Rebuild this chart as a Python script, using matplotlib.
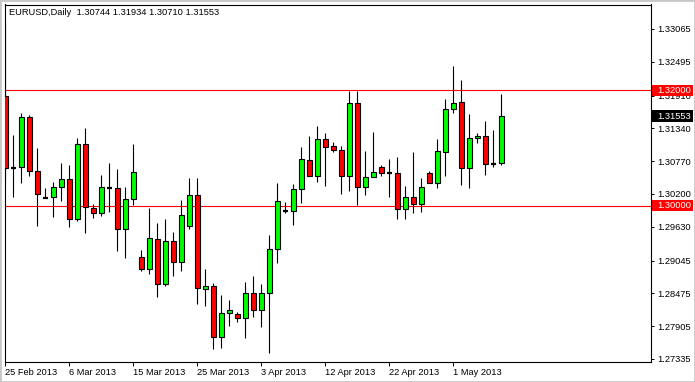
import matplotlib
matplotlib.use("Agg")
import matplotlib.pyplot as plt
from matplotlib.patches import Rectangle
import numpy as np
import pandas as pd

plt.rcParams["font.family"] = ["Liberation Sans", "DejaVu Sans"]

symbol = "EURUSD,Daily"

# daily bars (broker feed with Sunday bars)
dates = [
    "2013-02-25", "2013-02-26", "2013-02-27", "2013-02-28", "2013-03-01", "2013-03-03",
    "2013-03-04", "2013-03-05", "2013-03-06", "2013-03-07", "2013-03-08", "2013-03-10",
    "2013-03-11", "2013-03-12", "2013-03-13", "2013-03-14", "2013-03-15", "2013-03-17",
    "2013-03-18", "2013-03-19", "2013-03-20", "2013-03-21", "2013-03-22", "2013-03-24",
    "2013-03-25", "2013-03-26", "2013-03-27", "2013-03-28", "2013-03-29", "2013-03-31",
    "2013-04-01", "2013-04-02", "2013-04-03", "2013-04-04", "2013-04-05", "2013-04-07",
    "2013-04-08", "2013-04-09", "2013-04-10", "2013-04-11", "2013-04-12", "2013-04-14",
    "2013-04-15", "2013-04-16", "2013-04-17", "2013-04-18", "2013-04-19", "2013-04-21",
    "2013-04-22", "2013-04-23", "2013-04-24", "2013-04-25", "2013-04-26", "2013-04-28",
    "2013-04-29", "2013-04-30", "2013-05-01", "2013-05-02", "2013-05-03", "2013-05-05",
    "2013-05-06", "2013-05-07", "2013-05-08",
]

opens = [
    1.31902, 1.30657, 1.30664, 1.31532, 1.30599, 1.30136, 1.30143, 1.30327, 1.30455, 1.29761,
    1.31063, 1.29952, 1.29865, 1.30309, 1.30299, 1.29587, 1.30108, 1.29101, 1.28892, 1.29413,
    1.28632, 1.29379, 1.29014, 1.29644, 1.30177, 1.28556, 1.28597, 1.27722, 1.28129, 1.28111,
    1.28042, 1.28476, 1.28186, 1.28476, 1.29240, 1.29910, 1.29900, 1.30282, 1.30785, 1.30507,
    1.31150, 1.31028, 1.30959, 1.30518, 1.31775, 1.30327, 1.30500, 1.30674, 1.30565, 1.30570,
    1.29934, 1.30143, 1.30021, 1.30570, 1.30386, 1.30924, 1.31671, 1.31792, 1.30646, 1.31167,
    1.31202, 1.30721, 1.30744,
]
highs = [
    1.33187, 1.31224, 1.31606, 1.31577, 1.30999, 1.30309, 1.30414, 1.30743, 1.30704, 1.31178,
    1.31341, 1.30026, 1.30530, 1.30738, 1.30634, 1.30322, 1.31068, 1.29228, 1.29957, 1.29691,
    1.29766, 1.29540, 1.30096, 1.30478, 1.30478, 1.28898, 1.28655, 1.28446, 1.28359, 1.28151,
    1.28677, 1.28776, 1.28637, 1.29488, 1.30386, 1.30056, 1.30368, 1.31011, 1.31207, 1.31381,
    1.31254, 1.31103, 1.31039, 1.31994, 1.31994, 1.30952, 1.31277, 1.30698, 1.30813, 1.30837,
    1.30339, 1.30929, 1.30478, 1.30594, 1.31150, 1.31850, 1.32423, 1.32179, 1.31589, 1.31259,
    1.31473, 1.31316, 1.31934,
]
lows = [
    1.30478, 1.30153, 1.30396, 1.30518, 1.29650, 1.30122, 1.29806, 1.30084, 1.29632, 1.29736,
    1.29528, 1.29778, 1.29823, 1.29893, 1.29215, 1.29094, 1.30009, 1.28868, 1.28806, 1.28417,
    1.28608, 1.28781, 1.28868, 1.29597, 1.28285, 1.28261, 1.27503, 1.27531, 1.27913, 1.27983,
    1.27694, 1.28070, 1.27885, 1.27434, 1.28997, 1.29865, 1.29667, 1.30038, 1.30507, 1.30414,
    1.30344, 1.30934, 1.30200, 1.30257, 1.30004, 1.30188, 1.30490, 1.30518, 1.30143, 1.29761,
    1.29771, 1.29875, 1.29893, 1.30386, 1.30299, 1.30518, 1.31601, 1.30361, 1.30309, 1.31091,
    1.30525, 1.30664, 1.30710,
]
closes = [
    1.30651, 1.30657, 1.31532, 1.30599, 1.30195, 1.30136, 1.30327, 1.30460, 1.29761, 1.31063,
    1.29969, 1.29865, 1.30316, 1.30309, 1.29587, 1.30113, 1.30577, 1.28892, 1.29431, 1.28637,
    1.29379, 1.29014, 1.29830, 1.30177, 1.28563, 1.28597, 1.27722, 1.28129, 1.28186, 1.28042,
    1.28476, 1.28186, 1.28476, 1.29240, 1.30073, 1.29910, 1.30282, 1.30802, 1.30507, 1.31150,
    1.31011, 1.30959, 1.30518, 1.31775, 1.30316, 1.30500, 1.30577, 1.30559, 1.30565, 1.29934,
    1.30143, 1.30021, 1.30327, 1.30396, 1.30941, 1.31671, 1.31775, 1.30646, 1.31167, 1.31202,
    1.30716, 1.30721, 1.31553,
]

levels = [1.32000, 1.30000]
price_ticks = [1.33065, 1.32495, 1.31910, 1.31340, 1.30770, 1.30200,
               1.29630, 1.29045, 1.28475, 1.27905, 1.27335]

W, H = 695, 382
fig = plt.figure(figsize=(W / 100, H / 100), dpi=100)
fig.patch.set_facecolor("white")
ax = fig.add_axes([4.5 / W, 1 - 362 / H, 646 / W, 357.5 / H])

o = np.array(opens)
h = np.array(highs)
l = np.array(lows)
c = np.array(closes)
x = np.arange(len(dates))

# wicks
ax.vlines(x, l, h, color="black", lw=0.8, zorder=2)

# bodies
up = c > o
down = c < o
doji = c == o
ax.bar(x[up], (c - o)[up], bottom=o[up], width=0.62, color="#00FF00",
       edgecolor="black", linewidth=0.8, zorder=3)
ax.bar(x[down], (o - c)[down], bottom=c[down], width=0.62, color="#FF0000",
       edgecolor="black", linewidth=0.8, zorder=3)
ax.hlines(c[doji], x[doji] - 0.31, x[doji] + 0.31, color="black", lw=1.6, zorder=3)

# horizontal levels
for lv in levels:
    ax.axhline(lv, color="#FF0000", lw=0.8, zorder=1)

ax.set_xlim(-0.1, 80.65)
ax.set_ylim(1.272829, 1.334904)

# x ticks every 8 bars
dt = pd.to_datetime(dates)
pos = list(range(0, len(dates), 8))
ax.set_xticks(pos)
ax.set_xticklabels([f"{dt[i].day} {dt[i].strftime('%b %Y')}" for i in pos], fontsize=6.7)
for t in ax.get_xticklabels():
    t.set_ha("left")
ax.tick_params(axis="x", length=3, width=0.7, pad=1.5, color="black")

ax.yaxis.tick_right()
ax.set_yticks(price_ticks)
ax.set_yticklabels([f"{p:.5f}" for p in price_ticks], fontsize=6.7)
ax.tick_params(axis="y", length=2, width=0.7, pad=2.5, color="black")

for s in ax.spines.values():
    s.set_linewidth(0.8)
    s.set_color("black")

# price labels on the right scale
ytrans = ax.get_yaxis_transform()
box_h = 11.5 * (1.334904 - 1.272829) / 357.5
for val, col in [(levels[0], "#FF0000"), (levels[1], "#FF0000"), (closes[-1], "black")]:
    ax.add_patch(Rectangle((1.0023, val - box_h / 2), 41 / 646, box_h, transform=ytrans,
                           facecolor=col, edgecolor="none", clip_on=False, zorder=5))
    ax.text(1.0099, val, f"{val:.5f}", transform=ytrans, ha="left", va="center",
            color="white", fontsize=6.7, clip_on=False, zorder=6)

# header line
ax.text(0.0074, 0.9776,
        f"{symbol}  {opens[-1]:.5f} {highs[-1]:.5f} {lows[-1]:.5f} {closes[-1]:.5f}",
        transform=ax.transAxes, ha="left", va="center", fontsize=6.7, color="black")

# window border
fig.add_artist(Rectangle((0, 0), 1, 1, transform=fig.transFigure, facecolor="none",
                         edgecolor="#c8c8c8", linewidth=2.0))

fig.savefig("out.png", dpi=100)
